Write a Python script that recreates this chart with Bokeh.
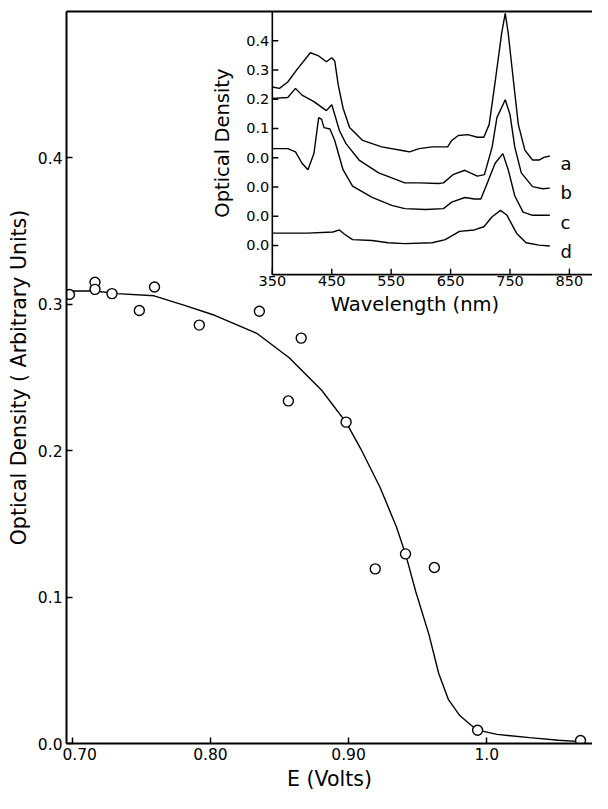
import numpy as np
from bokeh.plotting import figure
from bokeh.models import LinearAxis, FixedTicker, Range1d
from bokeh.core.properties import value
from bokeh.embed import file_html
from bokeh.resources import INLINE

FONT = "DejaVu Sans"

# ---------------- main plot data: optical density vs potential ----------------
e_points = [0.6979, 0.7164, 0.7164, 0.7287, 0.7485, 0.7595, 0.7919, 0.8354,
            0.8564, 0.8657, 0.8982, 0.9193, 0.9412, 0.9621, 0.9934, 1.0679]
od_points = [0.3067, 0.3151, 0.3102, 0.3073, 0.2958, 0.3118, 0.2858, 0.2953,
             0.2340, 0.2769, 0.2195, 0.1193, 0.1295, 0.1202, 0.0091, 0.0020]

e_curve = [0.6958, 0.7162, 0.7324, 0.7592, 0.7818, 0.8030, 0.8335, 0.8570,
           0.8805, 0.8982, 0.9088, 0.9229, 0.9346, 0.9412, 0.9487, 0.9581,
           0.9652, 0.9722, 0.9805, 0.9887, 0.9934, 1.0075, 1.0310, 1.0521, 1.0679]
od_curve = [0.3091, 0.3091, 0.3073, 0.3058, 0.2991, 0.2925, 0.2802, 0.2635,
            0.2413, 0.2193, 0.2013, 0.1747, 0.1480, 0.1295, 0.1035, 0.0747,
            0.0480, 0.0302, 0.0191, 0.0125, 0.0091, 0.0062, 0.0040, 0.0022, 0.0013]

x_ticks = [0.70, 0.80, 0.90, 1.0]
x_tick_labels = ["\u00a0\u00a0\u00a00.70", "0.80", "0.90", "1.0"]
y_ticks = [0.0, 0.1, 0.2, 0.3, 0.4]
y_tick_labels = ["0.0", "0.1", "0.2", "0.3", "0.4"]

# ---------------- inset data: spectra a-d (each relative to its own 0.0) ----------------
wl_a = [350, 362, 376, 392, 414, 428, 441, 450, 455, 461, 469, 480, 502, 534, 573, 581,
        597, 619, 645, 652, 663, 679, 695, 706, 715, 725, 736, 742, 747, 756, 764, 775,
        788, 799, 807, 817]
od_a = [0.242, 0.237, 0.259, 0.303, 0.359, 0.348, 0.328, 0.342, 0.331, 0.248, 0.170, 0.103,
        0.059, 0.037, 0.023, 0.020, 0.031, 0.037, 0.037, 0.059, 0.076, 0.079, 0.070, 0.070,
        0.114, 0.259, 0.426, 0.494, 0.426, 0.259, 0.114, 0.026, -0.008, -0.008, 0.001, 0.006]

wl_b = [350, 376, 389, 400, 420, 441, 450, 455, 463, 474, 496, 529, 573, 597, 630, 638,
        654, 674, 695, 707, 720, 728, 742, 750, 758, 769, 788, 805, 817]
od_b = [0.303, 0.306, 0.337, 0.314, 0.292, 0.261, 0.281, 0.248, 0.192, 0.148, 0.092, 0.048,
        0.014, 0.014, 0.012, 0.014, 0.042, 0.057, 0.037, 0.042, 0.137, 0.237, 0.298, 0.248,
        0.137, 0.048, 0.001, -0.006, -0.004]

wl_c = [350, 376, 389, 400, 410, 420, 428, 433, 437, 447, 455, 469, 485, 518, 551, 573,
        608, 638, 652, 674, 690, 701, 712, 725, 738, 747, 758, 772, 788, 817]
od_c = [0.231, 0.231, 0.220, 0.181, 0.159, 0.214, 0.337, 0.331, 0.303, 0.298, 0.259, 0.159,
        0.103, 0.064, 0.037, 0.026, 0.023, 0.026, 0.048, 0.064, 0.059, 0.059, 0.114, 0.181,
        0.214, 0.159, 0.070, 0.014, 0.003, 0.003]

wl_d = [350, 409, 452, 463, 471, 485, 518, 545, 573, 619, 641, 665, 690, 706, 720, 734,
        745, 761, 777, 799, 817]
od_d = [0.042, 0.042, 0.046, 0.053, 0.039, 0.020, 0.017, 0.009, 0.006, 0.009, 0.020, 0.048,
        0.053, 0.064, 0.098, 0.120, 0.103, 0.042, 0.009, 0.001, -0.002]

curve_names = ["a", "b", "c", "d"]
curve_offsets = [0.0, -0.1, -0.2, -0.3]

inset_x_ticks = [350, 450, 550, 650, 750, 850]
inset_x_labels = ["350", "450", "550", "650", "750", "850"]
inset_y_ticks = [-0.3, -0.2, -0.1, 0.0, 0.1, 0.2, 0.3, 0.4]
inset_y_labels = ["0.0", "0.0", "0.0", "0.0", "0.1", "0.2", "0.3", "0.4"]

# ---------------- layout (reference-image pixels, then scaled to the canvas) ----------------
W, H = 592, 793
SX, SY = W / 608.0, H / 809.0
REF_LEFT, REF_RIGHT, REF_TOP, REF_BOTTOM = 68, 608, 11, 762

B_LEFT = round(REF_LEFT * SX)
B_TOP = round(REF_TOP * SY)
B_BOTTOM = H - round(REF_BOTTOM * SY)
B_RIGHT = 0

X0 = 0.69577
X_PX_PER_UNIT = 1418.0                      # reference pixels per volt
x_end = X0 + (REF_RIGHT - REF_LEFT) / X_PX_PER_UNIT

WL_PX = 0.61          # reference pixels per nm
OD_PX = 300.0         # reference pixels per OD unit
REF_INSET_AXIS = 279.3
wl_start = 350 - (REF_INSET_AXIS - REF_LEFT) / WL_PX
wl_end = 350 + (REF_RIGHT - REF_INSET_AXIS) / WL_PX
od_top = 0.5
od_bottom = od_top - (REF_BOTTOM - REF_TOP) / OD_PX
inset_axis_bottom = -0.4

p = figure(width=W, height=H, output_backend="svg", toolbar_location=None,
           x_range=Range1d(X0, x_end), y_range=Range1d(0, 0.5),
           min_border_left=B_LEFT, min_border_right=B_RIGHT,
           min_border_top=B_TOP, min_border_bottom=B_BOTTOM)
p.outline_line_color = None
p.grid.visible = False
p.background_fill_color = "white"
p.border_fill_color = "white"
p.extra_x_ranges = {"wl": Range1d(wl_start, wl_end)}
p.extra_y_ranges = {"od": Range1d(od_bottom, od_top)}

for ax in (p.xaxis[0], p.yaxis[0]):
    ax.axis_line_width = 2
    ax.axis_line_color = "black"
    ax.major_tick_in = 6
    ax.major_tick_out = 0
    ax.major_tick_line_width = 1.5
    ax.minor_tick_line_color = None
    ax.major_label_text_font = FONT
    ax.major_label_text_font_size = "15.5px"
    ax.major_label_text_color = "black"
    ax.axis_label_text_font = FONT
    ax.axis_label_text_font_style = "normal"
    ax.axis_label_text_font_size = "20.5px"
    ax.axis_label_text_color = "black"

p.xaxis.ticker = FixedTicker(ticks=x_ticks)
p.xaxis.major_label_overrides = dict(zip(x_ticks, x_tick_labels))
p.xaxis.major_label_standoff = 2
p.xaxis.axis_label = "E (Volts)"
p.xaxis.axis_label_standoff = 0

p.yaxis.ticker = FixedTicker(ticks=y_ticks)
p.yaxis.major_label_overrides = dict(zip(y_ticks, y_tick_labels))
p.yaxis.major_label_standoff = 4
p.yaxis.axis_label = "Optical Density ( Arbitrary Units)"
p.yaxis.axis_label_standoff = 4

top_axis = LinearAxis(ticker=FixedTicker(ticks=[]), axis_line_width=2,
                      major_tick_in=0, major_tick_out=0, minor_tick_in=0, minor_tick_out=0,
                      major_label_standoff=0, major_label_text_font_size="0px")
p.add_layout(top_axis, "above")

p.line(e_curve, od_curve, line_color="black", line_width=1.4)
p.scatter(e_points, od_points, marker="circle", size=10, line_color="black",
          fill_color="white", line_width=1.4)

# ---------------- inset ----------------
kw = dict(x_range_name="wl", y_range_name="od")
for wl, od, off in zip([wl_a, wl_b, wl_c, wl_d], [od_a, od_b, od_c, od_d], curve_offsets):
    p.line(wl, np.array(od) + off, line_color="black", line_width=1.4, **kw)

x_axis_pos = inset_x_ticks[0]
p.segment(x0=[x_axis_pos, x_axis_pos], y0=[inset_axis_bottom, inset_axis_bottom],
          x1=[x_axis_pos, wl_end], y1=[od_top, inset_axis_bottom],
          line_color="black", line_width=1.6, **kw)
p.ray(x=[x_axis_pos] * len(inset_y_ticks), y=inset_y_ticks, length=6, length_units="screen",
      angle=0, line_color="black", line_width=1.4, **kw)
p.ray(x=inset_x_ticks, y=[inset_axis_bottom] * len(inset_x_ticks), length=6,
      length_units="screen", angle=np.pi / 2, line_color="black", line_width=1.4, **kw)

p.text(x=[x_axis_pos] * len(inset_y_ticks), y=inset_y_ticks, text=inset_y_labels,
       x_offset=-3, text_align="right", text_baseline="middle",
       text_font=value(FONT), text_font_size="14.5px", text_color="black", **kw)
p.text(x=inset_x_ticks, y=[inset_axis_bottom] * len(inset_x_ticks), text=inset_x_labels,
       y_offset=1, text_align="center", text_baseline="top",
       text_font=value(FONT), text_font_size="14.5px", text_color="black", **kw)
p.text(x=[590], y=[inset_axis_bottom], text=["Wavelength (nm)"], y_offset=30,
       text_align="center", text_baseline="middle",
       text_font=value(FONT), text_font_size="19.5px", text_color="black", **kw)
p.text(x=[x_axis_pos], y=[(inset_axis_bottom + od_top) / 2], text=["Optical Density"],
       angle=np.pi / 2, x_offset=-50, text_align="center", text_baseline="middle",
       text_font=value(FONT), text_font_size="19.5px", text_color="black", **kw)
p.text(x=[835] * 4, y=curve_offsets, text=curve_names, y_offset=6,
       text_align="left", text_baseline="alphabetic",
       text_font=value(FONT), text_font_size="18px", text_color="black", **kw)

open("out.html", "w").write(file_html(p, INLINE))
